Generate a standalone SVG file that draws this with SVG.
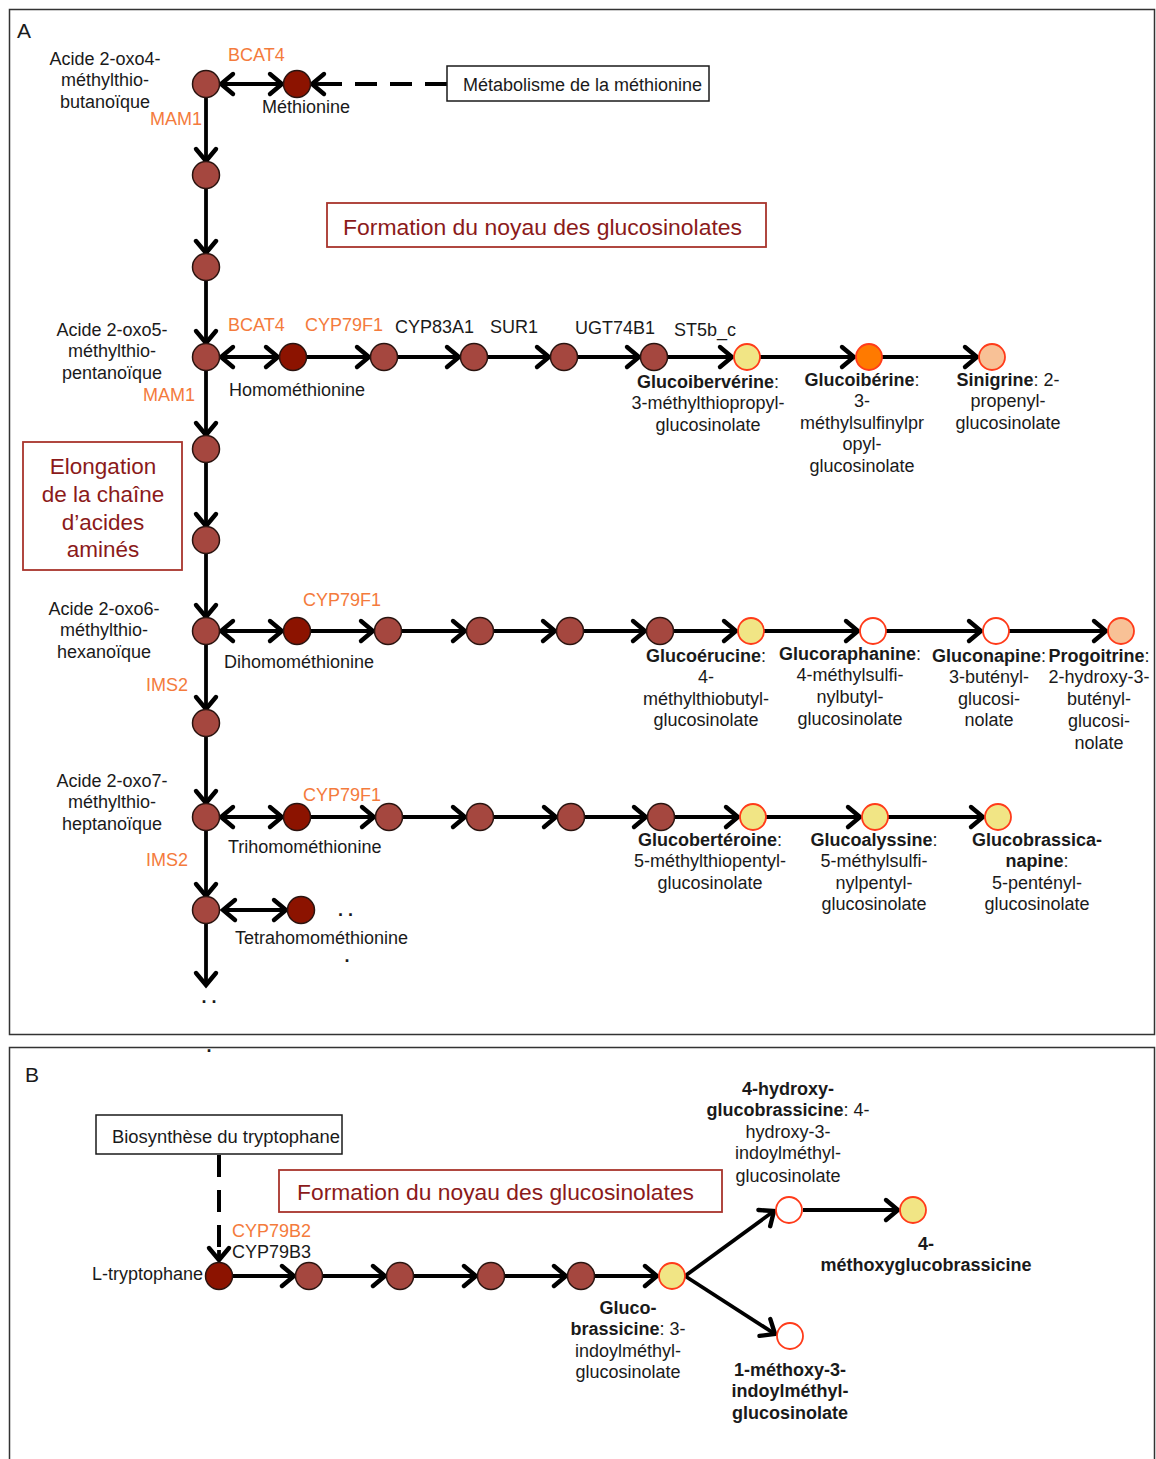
<svg xmlns="http://www.w3.org/2000/svg" width="1156" height="1459" viewBox="0 0 1156 1459">
<style>
text{font-family:"Liberation Sans",Arial,sans-serif;font-size:18px;fill:#1a1a1a}
.c{text-anchor:middle}
.b{font-weight:bold}
.o{fill:#f47b3c}
.big{font-size:22.5px;fill:#8b1a1a}
.e{stroke:#000;stroke-width:3.8;fill:none}
.dash{stroke:#000;stroke-width:4;fill:none;stroke-dasharray:22 13}
.n{fill:#a5473f;stroke:#2a1410;stroke-width:1.5}
.d{fill:#8c1300;stroke:#2a1410;stroke-width:1.5}
.y{fill:#f1e585;stroke:#ff3b1a;stroke-width:1.8}
.or{fill:#ff7a00;stroke:#ff3b1a;stroke-width:1.8}
.p{fill:#f8c196;stroke:#ff3b1a;stroke-width:1.8}
.w{fill:#fff;stroke:#ff3b1a;stroke-width:1.8}
.box{fill:#fff;stroke:#1a1a1a;stroke-width:1.5}
.rbox{fill:#fff;stroke:#a8342c;stroke-width:1.8}
</style>
<defs>
<marker id="ah" viewBox="-16 -14 20 28" refX="0" refY="0" markerWidth="20" markerHeight="28" markerUnits="userSpaceOnUse" orient="auto-start-reverse" overflow="visible">
<path d="M-12,-10 L0,0 L-12,10" fill="none" stroke="#000" stroke-width="4.4" stroke-linecap="round" stroke-linejoin="miter"/>
</marker>
</defs>
<rect x="0" y="0" width="1156" height="1459" fill="#fff"/>
<rect x="9.5" y="9.5" width="1145" height="1025" fill="none" stroke="#333" stroke-width="1.5"/>
<rect x="9.5" y="1047.5" width="1145" height="430" fill="none" stroke="#333" stroke-width="1.5"/>
<text x="17" y="38" style="font-size:21px">A</text>
<text x="25" y="1082" style="font-size:21px">B</text>

<g id="connectors">
<line class="e" x1="206" y1="97" x2="206" y2="161" marker-end="url(#ah)"/>
<line class="e" x1="206" y1="188" x2="206" y2="253" marker-end="url(#ah)"/>
<line class="e" x1="206" y1="280" x2="206" y2="343" marker-end="url(#ah)"/>
<line class="e" x1="206" y1="370" x2="206" y2="435" marker-end="url(#ah)"/>
<line class="e" x1="206" y1="462" x2="206" y2="526" marker-end="url(#ah)"/>
<line class="e" x1="206" y1="553" x2="206" y2="617" marker-end="url(#ah)"/>
<line class="e" x1="206" y1="644" x2="206" y2="709" marker-end="url(#ah)"/>
<line class="e" x1="206" y1="736" x2="206" y2="803" marker-end="url(#ah)"/>
<line class="e" x1="206" y1="830" x2="206" y2="896" marker-end="url(#ah)"/>
<line class="e" x1="206" y1="923" x2="206" y2="985" marker-end="url(#ah)"/>
<line class="e" x1="221" y1="84" x2="282" y2="84" marker-start="url(#ah)" marker-end="url(#ah)"/>
<line class="dash" x1="447" y1="84" x2="314" y2="84"/>
<line class="e" x1="320" y1="84" x2="312" y2="84" marker-end="url(#ah)"/>
<line class="e" x1="221" y1="357" x2="278" y2="357" marker-start="url(#ah)" marker-end="url(#ah)"/>
<line class="e" x1="306" y1="357" x2="369" y2="357" marker-end="url(#ah)"/>
<line class="e" x1="397" y1="357" x2="459" y2="357" marker-end="url(#ah)"/>
<line class="e" x1="487" y1="357" x2="549" y2="357" marker-end="url(#ah)"/>
<line class="e" x1="577" y1="357" x2="639" y2="357" marker-end="url(#ah)"/>
<line class="e" x1="667" y1="357" x2="732" y2="357" marker-end="url(#ah)"/>
<line class="e" x1="760" y1="357" x2="854" y2="357" marker-end="url(#ah)"/>
<line class="e" x1="882" y1="357" x2="977" y2="357" marker-end="url(#ah)"/>
<line class="e" x1="221" y1="631" x2="282" y2="631" marker-start="url(#ah)" marker-end="url(#ah)"/>
<line class="e" x1="310" y1="631" x2="373" y2="631" marker-end="url(#ah)"/>
<line class="e" x1="401" y1="631" x2="465" y2="631" marker-end="url(#ah)"/>
<line class="e" x1="493" y1="631" x2="555" y2="631" marker-end="url(#ah)"/>
<line class="e" x1="583" y1="631" x2="645" y2="631" marker-end="url(#ah)"/>
<line class="e" x1="673" y1="631" x2="736" y2="631" marker-end="url(#ah)"/>
<line class="e" x1="764" y1="631" x2="858" y2="631" marker-end="url(#ah)"/>
<line class="e" x1="886" y1="631" x2="981" y2="631" marker-end="url(#ah)"/>
<line class="e" x1="1009" y1="631" x2="1106" y2="631" marker-end="url(#ah)"/>
<line class="e" x1="221" y1="817" x2="282" y2="817" marker-start="url(#ah)" marker-end="url(#ah)"/>
<line class="e" x1="310" y1="817" x2="374" y2="817" marker-end="url(#ah)"/>
<line class="e" x1="402" y1="817" x2="465" y2="817" marker-end="url(#ah)"/>
<line class="e" x1="493" y1="817" x2="556" y2="817" marker-end="url(#ah)"/>
<line class="e" x1="584" y1="817" x2="646" y2="817" marker-end="url(#ah)"/>
<line class="e" x1="674" y1="817" x2="738" y2="817" marker-end="url(#ah)"/>
<line class="e" x1="766" y1="817" x2="860" y2="817" marker-end="url(#ah)"/>
<line class="e" x1="888" y1="817" x2="983" y2="817" marker-end="url(#ah)"/>
<line class="e" x1="223" y1="910" x2="286" y2="910" marker-start="url(#ah)" marker-end="url(#ah)"/>
<line class="dash" x1="219" y1="1155" x2="219" y2="1250"/>
<line class="e" x1="219" y1="1250" x2="219" y2="1260" marker-end="url(#ah)"/>
<line class="e" x1="232" y1="1276" x2="294" y2="1276" marker-end="url(#ah)"/>
<line class="e" x1="322" y1="1276" x2="385" y2="1276" marker-end="url(#ah)"/>
<line class="e" x1="413" y1="1276" x2="476" y2="1276" marker-end="url(#ah)"/>
<line class="e" x1="504" y1="1276" x2="566" y2="1276" marker-end="url(#ah)"/>
<line class="e" x1="594" y1="1276" x2="657" y2="1276" marker-end="url(#ah)"/>
<line class="e" x1="685" y1="1276" x2="774" y2="1211" marker-end="url(#ah)"/>
<line class="e" x1="685" y1="1276" x2="775" y2="1334" marker-end="url(#ah)"/>
<line class="e" x1="803" y1="1210" x2="898" y2="1210" marker-end="url(#ah)"/>
</g>

<g id="box-methionine"><rect class="box" x="447" y="66" width="262" height="35"/><text x="463" y="91">Métabolisme de la méthionine</text></g>
<g id="box-formationA"><rect class="rbox" x="327" y="203" width="439" height="44"/><text class="big" x="343" y="235" textLength="399" lengthAdjust="spacingAndGlyphs">Formation du noyau des glucosinolates</text></g>
<g id="box-elongation"><rect class="rbox" x="23" y="442" width="159" height="128"/>
<text class="big c" x="103" y="474">Elongation</text><text class="big c" x="103" y="502">de la chaîne</text><text class="big c" x="103" y="530">d’acides</text><text class="big c" x="103" y="557">aminés</text></g>
<g id="box-trp"><rect class="box" x="96" y="1115" width="246" height="39"/><text x="112" y="1143" textLength="228" lengthAdjust="spacingAndGlyphs">Biosynthèse du tryptophane</text></g>
<g id="box-formationB"><rect class="rbox" x="279" y="1170" width="443" height="42"/><text class="big" x="297" y="1200" textLength="397" lengthAdjust="spacingAndGlyphs">Formation du noyau des glucosinolates</text></g>

<g id="n-oxo4"><circle class="n" cx="206" cy="84" r="13.5"/>
<text class="c" x="105" y="65">Acide 2-oxo4-</text><text class="c" x="105" y="86">méthylthio-</text><text class="c" x="105" y="108">butanoïque</text>
<text class="o" x="150" y="125">MAM1</text><text class="o" x="228" y="61">BCAT4</text></g>
<g id="n-met"><circle class="d" cx="297" cy="84" r="13.5"/><text class="c" x="306" y="113">Méthionine</text></g>
<g id="n-a1"><circle class="n" cx="206" cy="175" r="13.5"/></g>
<g id="n-a2"><circle class="n" cx="206" cy="267" r="13.5"/></g>
<g id="n-oxo5"><circle class="n" cx="206" cy="357" r="13.5"/>
<text class="c" x="112" y="336">Acide 2-oxo5-</text><text class="c" x="112" y="357">méthylthio-</text><text class="c" x="112" y="379">pentanoïque</text>
<text class="o" x="143" y="401">MAM1</text></g>
<g id="n-a3"><circle class="n" cx="206" cy="449" r="13.5"/></g>
<g id="n-a4"><circle class="n" cx="206" cy="540" r="13.5"/></g>
<g id="n-oxo6"><circle class="n" cx="206" cy="631" r="13.5"/>
<text class="c" x="104" y="615">Acide 2-oxo6-</text><text class="c" x="104" y="636">méthylthio-</text><text class="c" x="104" y="658">hexanoïque</text>
<text class="o" x="146" y="691">IMS2</text></g>
<g id="n-a5"><circle class="n" cx="206" cy="723" r="13.5"/></g>
<g id="n-oxo7"><circle class="n" cx="206" cy="817" r="13.5"/>
<text class="c" x="112" y="787">Acide 2-oxo7-</text><text class="c" x="112" y="808">méthylthio-</text><text class="c" x="112" y="830">heptanoïque</text>
<text class="o" x="146" y="866">IMS2</text></g>
<g id="n-a6"><circle class="n" cx="206" cy="910" r="13.5"/></g>
<text class="b c" x="209" y="1003">. .</text>
<text class="b c" x="209" y="1052">.</text>

<g id="row1">
<text class="o" x="228" y="331">BCAT4</text><text class="o" x="305" y="331">CYP79F1</text>
<text x="395" y="333">CYP83A1</text><text x="490" y="333">SUR1</text><text x="575" y="334">UGT74B1</text><text x="674" y="336">ST5b_c</text>
<g id="n-hmet"><circle class="d" cx="293" cy="357" r="13.5"/><text x="229" y="396">Homométhionine</text></g>
<circle class="n" cx="384" cy="357" r="13.5"/>
<circle class="n" cx="474" cy="357" r="13.5"/>
<circle class="n" cx="564" cy="357" r="13.5"/>
<circle class="n" cx="654" cy="357" r="13.5"/>
<g id="n-glucoiberverine"><circle class="y" cx="747" cy="357" r="13"/>
<text class="c" x="708" y="388"><tspan class="b">Glucoibervérine</tspan>:</text><text class="c" x="708" y="409">3-méthylthiopropyl-</text><text class="c" x="708" y="431">glucosinolate</text></g>
<g id="n-glucoiberine"><circle class="or" cx="869" cy="357" r="13"/>
<text class="c" x="862" y="386"><tspan class="b">Glucoibérine</tspan>:</text><text class="c" x="862" y="407">3-</text><text class="c" x="862" y="429">méthylsulfinylpr</text><text class="c" x="862" y="450">opyl-</text><text class="c" x="862" y="472">glucosinolate</text></g>
<g id="n-sinigrine"><circle class="p" cx="992" cy="357" r="13"/>
<text class="c" x="1008" y="386"><tspan class="b">Sinigrine</tspan>: 2-</text><text class="c" x="1008" y="407">propenyl-</text><text class="c" x="1008" y="429">glucosinolate</text></g>
</g>

<g id="row2">
<text class="o" x="303" y="606">CYP79F1</text>
<g id="n-dhmet"><circle class="d" cx="297" cy="631" r="13.5"/><text x="224" y="668">Dihomométhionine</text></g>
<circle class="n" cx="388" cy="631" r="13.5"/>
<circle class="n" cx="480" cy="631" r="13.5"/>
<circle class="n" cx="570" cy="631" r="13.5"/>
<circle class="n" cx="660" cy="631" r="13.5"/>
<g id="n-glucoerucine"><circle class="y" cx="751" cy="631" r="13"/>
<text class="c" x="706" y="662"><tspan class="b">Glucoérucine</tspan>:</text><text class="c" x="706" y="683">4-</text><text class="c" x="706" y="705">méthylthiobutyl-</text><text class="c" x="706" y="726">glucosinolate</text></g>
<g id="n-glucoraphanine"><circle class="w" cx="873" cy="631" r="13"/>
<text class="c" x="850" y="660"><tspan class="b">Glucoraphanine</tspan>:</text><text class="c" x="850" y="681">4-méthylsulfi-</text><text class="c" x="850" y="703">nylbutyl-</text><text class="c" x="850" y="725">glucosinolate</text></g>
<g id="n-gluconapine"><circle class="w" cx="996" cy="631" r="13"/>
<text class="c" x="989" y="662"><tspan class="b">Gluconapine</tspan>:</text><text class="c" x="989" y="683">3-butényl-</text><text class="c" x="989" y="705">glucosi-</text><text class="c" x="989" y="726">nolate</text></g>
<g id="n-progoitrine"><circle class="p" cx="1121" cy="631" r="13"/>
<text class="c" x="1099" y="662"><tspan class="b">Progoitrine</tspan>:</text><text class="c" x="1099" y="683">2-hydroxy-3-</text><text class="c" x="1099" y="705">butényl-</text><text class="c" x="1099" y="727">glucosi-</text><text class="c" x="1099" y="749">nolate</text></g>
</g>

<g id="row3">
<text class="o" x="303" y="801">CYP79F1</text>
<g id="n-thmet"><circle class="d" cx="297" cy="817" r="13.5"/><text x="228" y="853">Trihomométhionine</text></g>
<circle class="n" cx="389" cy="817" r="13.5"/>
<circle class="n" cx="480" cy="817" r="13.5"/>
<circle class="n" cx="571" cy="817" r="13.5"/>
<circle class="n" cx="661" cy="817" r="13.5"/>
<g id="n-glucoberteroine"><circle class="y" cx="753" cy="817" r="13"/>
<text class="c" x="710" y="846"><tspan class="b">Glucobertéroine</tspan>:</text><text class="c" x="710" y="867">5-méthylthiopentyl-</text><text class="c" x="710" y="889">glucosinolate</text></g>
<g id="n-glucoalyssine"><circle class="y" cx="875" cy="817" r="13"/>
<text class="c" x="874" y="846"><tspan class="b">Glucoalyssine</tspan>:</text><text class="c" x="874" y="867">5-méthylsulfi-</text><text class="c" x="874" y="889">nylpentyl-</text><text class="c" x="874" y="910">glucosinolate</text></g>
<g id="n-glucobrassicanapine"><circle class="y" cx="998" cy="817" r="13"/>
<text class="c b" x="1037" y="846">Glucobrassica-</text><text class="c" x="1037" y="867"><tspan class="b">napine</tspan>:</text><text class="c" x="1037" y="889">5-pentényl-</text><text class="c" x="1037" y="910">glucosinolate</text></g>
</g>

<g id="n-tetmet"><circle class="d" cx="301" cy="910" r="13.5"/><text x="235" y="944">Tetrahomométhionine</text></g>
<text class="b" x="338" y="916">. .</text>
<text class="b c" x="347" y="962">.</text>

<g id="n-trp"><circle class="d" cx="219" cy="1276" r="13.5"/>
<text x="203" y="1280" text-anchor="end">L-tryptophane</text>
<text class="o" x="232" y="1237">CYP79B2</text><text x="232" y="1258">CYP79B3</text></g>
<circle class="n" cx="309" cy="1276" r="13.5"/>
<circle class="n" cx="400" cy="1276" r="13.5"/>
<circle class="n" cx="491" cy="1276" r="13.5"/>
<circle class="n" cx="581" cy="1276" r="13.5"/>
<g id="n-glucobrassicine"><circle class="y" cx="672" cy="1276" r="13"/>
<text class="c b" x="628" y="1314">Gluco-</text><text class="c" x="628" y="1335"><tspan class="b">brassicine</tspan>: 3-</text><text class="c" x="628" y="1357">indoylméthyl-</text><text class="c" x="628" y="1378">glucosinolate</text></g>
<g id="n-4oh"><circle class="w" cx="789" cy="1210" r="13"/>
<text class="c b" x="788" y="1095">4-hydroxy-</text><text class="c" x="788" y="1116"><tspan class="b">glucobrassicine</tspan>: 4-</text><text class="c" x="788" y="1138">hydroxy-3-</text><text class="c" x="788" y="1159">indoylméthyl-</text><text class="c" x="788" y="1182">glucosinolate</text></g>
<g id="n-4meo"><circle class="y" cx="913" cy="1210" r="13"/>
<text class="c b" x="926" y="1250">4-</text><text class="c b" x="926" y="1271">méthoxyglucobrassicine</text></g>
<g id="n-1meo"><circle class="w" cx="790" cy="1336" r="13"/>
<text class="c b" x="790" y="1376">1-méthoxy-3-</text><text class="c b" x="790" y="1397">indoylméthyl-</text><text class="c b" x="790" y="1419">glucosinolate</text></g>
</svg>
